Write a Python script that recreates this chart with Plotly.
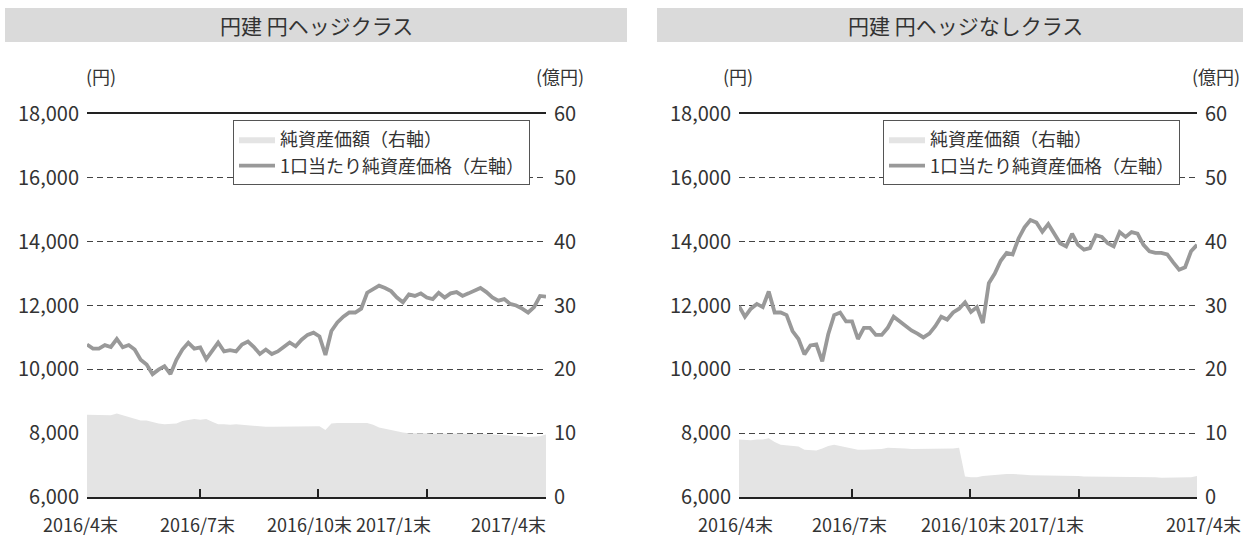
import plotly.graph_objects as go

W, H = 1243, 544

# ---------------- data ----------------
TITLES = ["円建 円ヘッジクラス", "円建 円ヘッジなしクラス"]
X_TICK_LABELS = ["2016/4末", "2016/7末", "2016/10末", "2017/1末", "2017/4末"]
NAME_AREA = "純資産価額（右軸）"
NAME_LINE = "1口当たり純資産価格（左軸）"

# tick positions on the sample index axis (2016/4末 ... 2017/4末)
TICK_IDX = [0, 19, 38.8, 57.1, 77]

# 円ヘッジクラス : 1口当たり純資産価格 (円, 左軸)
HEDGE_PRICE = [10780, 10650, 10650, 10760, 10700, 10950, 10690, 10760, 10620, 10300,
               10150, 9850, 9990, 10100, 9850, 10300, 10620, 10830, 10650, 10690,
               10320, 10560, 10840, 10560, 10600, 10560, 10780, 10870, 10700, 10480,
               10620, 10480, 10560, 10700, 10840, 10720, 10930, 11080, 11150, 11030,
               10450, 11200, 11470, 11650, 11780, 11780, 11900, 12400, 12500, 12620,
               12550, 12450, 12250, 12100, 12350, 12300, 12380, 12250, 12200, 12400,
               12250, 12380, 12420, 12300, 12380, 12450, 12550, 12420, 12250, 12150,
               12200, 12050, 12000, 11900, 11780, 11950, 12300, 12280]
# 円ヘッジクラス : 純資産価額 (億円, 右軸)
HEDGE_NAV = [12.9, 12.9, 12.8, 12.9, 12.8, 13.1, 12.8, 12.6, 12.2, 12.0,
             12.0, 11.7, 11.5, 11.4, 11.5, 11.5, 11.9, 12.1, 12.2, 12.1,
             12.2, 11.8, 11.4, 11.4, 11.3, 11.4, 11.3, 11.3, 11.2, 11.1,
             11.0, 11.0, 11.0, 11.1, 11.0, 11.1, 11.1, 11.1, 11.0, 11.1,
             10.5, 11.5, 11.6, 11.6, 11.7, 11.6, 11.7, 11.6, 11.3, 10.9,
             10.7, 10.5, 10.2, 10.1, 10.0, 9.95, 10.0, 10.0, 9.9, 9.95,
             9.9, 9.9, 9.95, 9.9, 9.9, 9.85, 9.9, 9.85, 9.8, 9.8,
             9.75, 9.7, 9.6, 9.5, 9.4, 9.4, 9.5, 9.8]

# 円ヘッジなしクラス : 1口当たり純資産価格 (円, 左軸)
NOHEDGE_PRICE = [11980, 11650, 11900, 12050, 11950, 12440, 11780, 11780, 11700, 11200,
                 10950, 10470, 10750, 10780, 10250, 11100, 11700, 11780, 11500, 11500,
                 10950, 11300, 11300, 11080, 11080, 11300, 11650, 11500, 11380, 11220,
                 11120, 11000, 11120, 11350, 11650, 11560, 11780, 11900, 12100, 11800,
                 11950, 11450, 12700, 13000, 13400, 13650, 13600, 14100, 14450, 14680,
                 14600, 14310, 14550, 14250, 13950, 13850, 14250, 13900, 13750, 13800,
                 14200, 14150, 13950, 13850, 14300, 14150, 14300, 14250, 13900, 13700,
                 13650, 13650, 13600, 13350, 13120, 13200, 13700, 13900]
# 円ヘッジなしクラス : 純資産価額 (億円, 右軸)
NOHEDGE_NAV = [9.0, 8.9, 8.9, 9.0, 9.0, 9.2, 8.6, 8.2, 8.1, 8.0,
               7.9, 7.4, 7.3, 7.3, 7.6, 8.0, 8.2, 8.0, 7.8, 7.5,
               7.4, 7.4, 7.4, 7.4, 7.5, 7.7, 7.7, 7.6, 7.6, 7.5,
               7.5, 7.5, 7.5, 7.5, 7.6, 7.6, 7.6, 7.7, 3.2, 3.1,
               3.1, 3.3, 3.4, 3.5, 3.6, 3.6, 3.6, 3.6, 3.5, 3.4,
               3.4, 3.4, 3.3, 3.3, 3.3, 3.3, 3.3, 3.3, 3.2, 3.2,
               3.2, 3.2, 3.2, 3.2, 3.2, 3.2, 3.2, 3.2, 3.1, 3.1,
               3.1, 3.0, 3.0, 3.0, 3.0, 3.0, 3.1, 3.3]

# ---------------- style ----------------
FONT = "Noto Sans CJK JP"
TXT = "#333333"
AXC = "#222222"
AREA_C = "#e4e4e4"
LINE_C = "#999999"
BAR_C = "#dadada"

X_IDX = list(range(len(HEDGE_PRICE)))

def px(v):
    return v / W

def py(v):
    return 1 - v / H

fig = go.Figure()

panels = [
    dict(price=HEDGE_PRICE, nav=HEDGE_NAV, xa="x", ya="y", ya2="y2", leg="legend"),
    dict(price=NOHEDGE_PRICE, nav=NOHEDGE_NAV, xa="x2", ya="y3", ya2="y4", leg="legend2"),
]
for p in panels:
    fig.add_trace(go.Scatter(
        x=X_IDX, y=p["nav"], xaxis=p["xa"], yaxis=p["ya2"], mode="lines",
        fill="tozeroy", fillcolor=AREA_C, line=dict(width=0, color=AREA_C),
        name=NAME_AREA, legend=p["leg"], hoverinfo="skip"))
    fig.add_trace(go.Scatter(
        x=X_IDX, y=p["price"], xaxis=p["xa"], yaxis=p["ya"], mode="lines",
        line=dict(width=3.8, color=LINE_C), name=NAME_LINE, legend=p["leg"],
        hoverinfo="skip"))

YDOM = [py(497), py(114)]

def xaxis(dom, anchor):
    return dict(domain=dom, anchor=anchor, range=[0, len(X_IDX) - 1],
                showgrid=False, zeroline=False, showline=True, linecolor=AXC,
                linewidth=1.5, mirror=True, ticks="inside", ticklen=8,
                tickwidth=1.5, tickcolor=AXC, tickmode="array",
                tickvals=TICK_IDX, showticklabels=False, fixedrange=True,
                automargin=False)

def yleft(anchor):
    return dict(domain=YDOM, anchor=anchor, range=[6000, 18000], dtick=2000,
                tickformat=",d", showgrid=True, gridcolor="#444444",
                griddash="6px,4px", gridwidth=1, showline=False, zeroline=False,
                ticks="", tickfont=dict(size=20, color=TXT),
                ticklabelstandoff=7, fixedrange=True, automargin=False)

def yright(overlay, anchor):
    return dict(overlaying=overlay, side="right", anchor=anchor, range=[0, 60],
                dtick=10, showgrid=False, zeroline=False, showline=False,
                ticks="", tickfont=dict(size=20, color=TXT),
                ticklabelstandoff=7, fixedrange=True, automargin=False)

legend_common = dict(xanchor="left", yanchor="top", bgcolor="white",
                     bordercolor="#555555", borderwidth=1,
                     font=dict(size=18, color=TXT, family=FONT),
                     itemwidth=36, tracegroupgap=0)

def ann(txt, cx, cy, size):
    return dict(text=txt, x=px(cx), y=py(cy), xref="paper", yref="paper",
                xanchor="center", yanchor="middle", showarrow=False,
                font=dict(size=size, color=TXT))

annotations = []
for txt, cx in zip(TITLES, [316, 965]):
    annotations.append(ann(txt, cx, 25, 21))
for txt, cx in [("(円)", 101), ("(億円)", 560), ("(円)", 738), ("(億円)", 1216)]:
    annotations.append(ann(txt, cx, 76, 18))
for centers in ([80, 197, 309, 393, 508], [735, 850, 963, 1046, 1203]):
    for txt, cx in zip(X_TICK_LABELS, centers):
        annotations.append(ann(txt, cx, 524, 18))

shapes = [
    dict(type="rect", xref="paper", yref="paper", x0=px(5), x1=px(627),
         y0=py(42), y1=py(8), fillcolor=BAR_C, line=dict(width=0), layer="below"),
    dict(type="rect", xref="paper", yref="paper", x0=px(657), x1=1,
         y0=py(42), y1=py(8), fillcolor=BAR_C, line=dict(width=0), layer="below"),
]

fig.update_layout(
    width=W, height=H, margin=dict(l=0, r=0, t=0, b=0, autoexpand=False),
    paper_bgcolor="white", plot_bgcolor="rgba(0,0,0,0)",
    font=dict(family=FONT, color=TXT),
    xaxis=xaxis([px(87), px(546)], "y"),
    yaxis=yleft("x"),
    yaxis2=yright("y", "x"),
    xaxis2=xaxis([px(739), px(1197)], "y3"),
    yaxis3=yleft("x2"),
    yaxis4=yright("y3", "x2"),
    legend=dict(x=px(233), y=py(120), **legend_common),
    legend2=dict(x=px(883), y=py(120), **legend_common),
    annotations=annotations, shapes=shapes, showlegend=True,
)

fig.write_html("out.html", config={"displayModeBar": False},
               post_script="document.body.style.margin='0px';document.body.style.overflow='hidden';")
